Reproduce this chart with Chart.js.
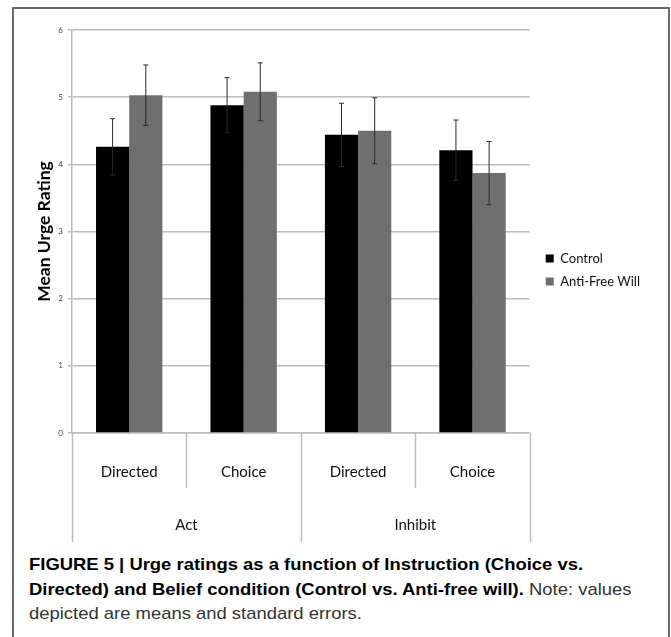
<!DOCTYPE html>
<html>
<head>
<meta charset="utf-8">
<script src="https://cdn.jsdelivr.net/npm/chart.js@4"></script>
<style>
  body { margin: 0; background: #fff; }
  #frame { position: absolute; left: 12px; top: 7px; width: 654px; height: 650px; border: 2px solid #6a6a6a; border-bottom: none; }
  #urgeChart { position: absolute; left: 0; top: 0; }
  #caption { position: absolute; left: 29px; top: 553px; font-family: "Liberation Sans", Arial, sans-serif; font-size: 17px; line-height: 24.5px; color: #333; white-space: nowrap; transform-origin: 0 0; }
  #caption b { color: #000; }
</style>
</head>
<body>
<div id="frame"></div>
<canvas id="urgeChart" width="671" height="552"></canvas>
<div id="caption"><b>FIGURE 5 | Urge ratings as a function of Instruction (Choice vs.</b><br><b>Directed) and Belief condition (Control vs. Anti-free will).</b> Note: values<br>depicted are means and standard errors.</div>
<script>
// data
const categories = ['Directed', 'Choice', 'Directed', 'Choice'];
const groups = ['Act', 'Inhibit'];
const control = [4.26, 4.88, 4.44, 4.21];
const controlSE = [0.42, 0.41, 0.47, 0.45];
const antiFreeWill = [5.03, 5.08, 4.50, 3.87];
const antiFreeWillSE = [0.45, 0.43, 0.49, 0.47];
const yTicks = [0, 1, 2, 3, 4, 5, 6];

const gridGrey = '#bcbcbc';
const labelFont = 'Lato';

// caption font is condensed in the original, squeeze the first line to its width
(function () {
    const cap = document.getElementById('caption');
    const c = document.createElement('canvas').getContext('2d');
    c.font = 'bold 17px "Liberation Sans"';
    const w = c.measureText('FIGURE 5 | Urge ratings as a function of Instruction (Choice vs.').width;
    cap.style.transform = 'scaleX(' + (554 / w) + ')';
})();

// error bars on top of each bar
const errorBars = {
    id: 'errorBars',
    afterDatasetsDraw(chart) {
        const ctx = chart.ctx;
        const y = chart.scales.y;
        const errs = [controlSE, antiFreeWillSE];
        ctx.save();
        ctx.strokeStyle = '#2a2a2a';
        ctx.lineWidth = 1;
        chart.data.datasets.forEach(function (ds, d) {
            chart.getDatasetMeta(d).data.forEach(function (bar, i) {
                const top = y.getPixelForValue(ds.data[i] + errs[d][i]);
                const bot = y.getPixelForValue(ds.data[i] - errs[d][i]);
                ctx.beginPath();
                ctx.moveTo(bar.x, top); ctx.lineTo(bar.x, bot);
                ctx.moveTo(bar.x - 2.5, top); ctx.lineTo(bar.x + 2.5, top);
                ctx.moveTo(bar.x - 2.5, bot); ctx.lineTo(bar.x + 2.5, bot);
                ctx.stroke();
            });
        });
        ctx.restore();
    }
};

// separator lines under the x axis (short between categories, long between groups)
const axisDividers = {
    id: 'axisDividers',
    afterDraw(chart) {
        const ctx = chart.ctx;
        const x = chart.scales.x;
        const half = (x.getPixelForValue(1) - x.getPixelForValue(0)) / 2;
        const perGroup = categories.length / groups.length;
        ctx.save();
        ctx.strokeStyle = gridGrey;
        ctx.lineWidth = 1.5;
        for (let i = 0; i <= categories.length; i++) {
            const px = Math.round(x.getPixelForValue(i) - half) + 0.5;
            const end = (i % perGroup === 0) ? x.top + 109 : x.top + 55;
            ctx.beginPath();
            ctx.moveTo(px, x.top);
            ctx.lineTo(px, end);
            ctx.stroke();
        }
        ctx.restore();
    }
};

// legend sits a little right of the plot and a bit higher than centred
const legendNudge = {
    id: 'legendNudge',
    afterLayout(chart) {
        const lg = chart.legend;
        lg.left += 6; lg.right += 6;
        lg.top -= 14; lg.bottom -= 14;
    }
};

new Chart(document.getElementById('urgeChart'), {
    type: 'bar',
    data: {
        labels: categories,
        datasets: [{
            label: 'Control',
            data: control,
            backgroundColor: '#000000'
        }, {
            label: 'Anti-Free Will',
            data: antiFreeWill,
            backgroundColor: '#6f6f6f'
        }]
    },
    options: {
        responsive: false,
        animation: false,
        layout: { padding: { top: 30, bottom: 14, left: 0, right: 27 } },
        datasets: { bar: { barPercentage: 1, categoryPercentage: 0.58 } },
        plugins: {
            tooltip: { enabled: false },
            legend: {
                position: 'right',
                labels: {
                    boxWidth: 8, boxHeight: 8, padding: 10,
                    color: '#111',
                    font: { family: labelFont, size: 13 }
                }
            }
        },
        scales: {
            y: {
                min: 0, max: 6,
                afterFit: function (s) { s.width = 72; },
                afterBuildTicks: function (s) { s.ticks = yTicks.map(v => ({ value: v })); },
                grid: { color: gridGrey, lineWidth: 1.5, tickLength: 4 },
                border: { color: gridGrey, width: 1.5 },
                ticks: { color: '#444', padding: 5, font: { family: labelFont, size: 8 } },
                title: {
                    display: true, text: 'Mean Urge Rating', color: '#000',
                    padding: { top: 34, bottom: 0 },
                    font: { family: labelFont, size: 17.5, weight: 'bold' }
                }
            },
            x: {
                offset: true,
                grid: { display: false, drawTicks: false },
                border: { color: gridGrey, width: 1.5 },
                ticks: { color: '#111', padding: 30.5, font: { family: labelFont, size: 15 } }
            },
            x2: {
                type: 'category',
                labels: groups,
                position: 'bottom',
                offset: true,
                grid: { display: false, drawTicks: false },
                border: { display: false },
                ticks: { color: '#111', padding: 4, font: { family: labelFont, size: 15 } }
            }
        }
    },
    plugins: [errorBars, axisDividers, legendNudge]
});
</script>
</body>
</html>
